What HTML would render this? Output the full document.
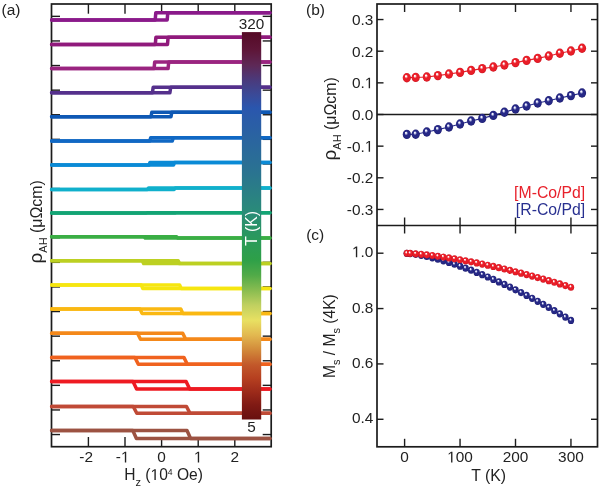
<!DOCTYPE html>
<html><head><meta charset="utf-8"><style>
html,body{margin:0;padding:0;background:#fff;}
body{width:600px;height:488px;overflow:hidden;position:relative;}
svg{position:absolute;left:0;top:0;will-change:transform;}
svg text{font-family:"Liberation Sans", sans-serif;}
</style></head><body>
<svg width="600" height="488" viewBox="0 0 600 488">
<defs>
<linearGradient id="cb" x1="0" y1="0" x2="0" y2="1">
<stop offset="0" stop-color="#560a26"/>
<stop offset="0.046" stop-color="#5e1638"/>
<stop offset="0.085" stop-color="#5e2856"/>
<stop offset="0.124" stop-color="#4a3a7c"/>
<stop offset="0.162" stop-color="#3a4a98"/>
<stop offset="0.196" stop-color="#2a56ae"/>
<stop offset="0.227" stop-color="#2a5ca8"/>
<stop offset="0.356" stop-color="#2a7292"/>
<stop offset="0.459" stop-color="#2a8a7a"/>
<stop offset="0.537" stop-color="#2a9a5a"/>
<stop offset="0.588" stop-color="#2ea048"/>
<stop offset="0.627" stop-color="#50aa48"/>
<stop offset="0.666" stop-color="#88bc50"/>
<stop offset="0.705" stop-color="#c0d060"/>
<stop offset="0.744" stop-color="#e8e062"/>
<stop offset="0.782" stop-color="#e2b850"/>
<stop offset="0.82" stop-color="#d28a3a"/>
<stop offset="0.859" stop-color="#c2582a"/>
<stop offset="0.893" stop-color="#b64020"/>
<stop offset="0.929" stop-color="#9c2a1a"/>
<stop offset="0.962" stop-color="#801a14"/>
<stop offset="1" stop-color="#681010"/>
</linearGradient>
<radialGradient id="rs" cx="0.5" cy="0.5" r="0.5" fx="0.38" fy="0.31">
<stop offset="0" stop-color="#ffffff"/><stop offset="0.13" stop-color="#ffffff"/><stop offset="0.28" stop-color="#f48088"/><stop offset="0.44" stop-color="#ea1e28"/><stop offset="0.8" stop-color="#ea1e28"/><stop offset="1" stop-color="#cc1420"/>
</radialGradient>
<radialGradient id="bs" cx="0.5" cy="0.5" r="0.5" fx="0.38" fy="0.31">
<stop offset="0" stop-color="#f4f4ff"/><stop offset="0.13" stop-color="#f4f4ff"/><stop offset="0.28" stop-color="#8a8ec8"/><stop offset="0.44" stop-color="#262886"/><stop offset="0.8" stop-color="#262886"/><stop offset="1" stop-color="#1c1c70"/>
</radialGradient>
</defs>
<rect x="51.5" y="4.0" width="219.7" height="442.7" fill="none" stroke="#1c1c1c" stroke-width="1.7"/>
<line x1="88.39999999999999" y1="4.0" x2="88.39999999999999" y2="13.7" stroke="#1c1c1c" stroke-width="1.4"/>
<line x1="88.39999999999999" y1="446.7" x2="88.39999999999999" y2="437.0" stroke="#1c1c1c" stroke-width="1.4"/>
<text x="86.1" y="462.4" font-size="15.4" text-anchor="middle" fill="#222">-2</text>
<line x1="125.0" y1="4.0" x2="125.0" y2="13.7" stroke="#1c1c1c" stroke-width="1.4"/>
<line x1="125.0" y1="446.7" x2="125.0" y2="437.0" stroke="#1c1c1c" stroke-width="1.4"/>
<text id="o38" x="122.7" y="462.4" font-size="15.4" text-anchor="middle" fill="#222">- </text>
<line x1="161.6" y1="4.0" x2="161.6" y2="13.7" stroke="#1c1c1c" stroke-width="1.4"/>
<line x1="161.6" y1="446.7" x2="161.6" y2="437.0" stroke="#1c1c1c" stroke-width="1.4"/>
<text x="161.6" y="462.4" font-size="15.4" text-anchor="middle" fill="#222">0</text>
<line x1="198.2" y1="4.0" x2="198.2" y2="13.7" stroke="#1c1c1c" stroke-width="1.4"/>
<line x1="198.2" y1="446.7" x2="198.2" y2="437.0" stroke="#1c1c1c" stroke-width="1.4"/>
<text id="o44" x="198.2" y="462.4" font-size="15.4" text-anchor="middle" fill="#222"> </text>
<line x1="234.8" y1="4.0" x2="234.8" y2="13.7" stroke="#1c1c1c" stroke-width="1.4"/>
<line x1="234.8" y1="446.7" x2="234.8" y2="437.0" stroke="#1c1c1c" stroke-width="1.4"/>
<text x="234.8" y="462.4" font-size="15.4" text-anchor="middle" fill="#222">2</text>
<line x1="51.5" y1="16.35" x2="60.0" y2="16.35" stroke="#1c1c1c" stroke-width="1.4"/>
<line x1="271.2" y1="16.35" x2="262.7" y2="16.35" stroke="#1c1c1c" stroke-width="1.4"/>
<line x1="51.5" y1="40.95" x2="60.0" y2="40.95" stroke="#1c1c1c" stroke-width="1.4"/>
<line x1="271.2" y1="40.95" x2="262.7" y2="40.95" stroke="#1c1c1c" stroke-width="1.4"/>
<line x1="51.5" y1="65.55" x2="60.0" y2="65.55" stroke="#1c1c1c" stroke-width="1.4"/>
<line x1="271.2" y1="65.55" x2="262.7" y2="65.55" stroke="#1c1c1c" stroke-width="1.4"/>
<line x1="51.5" y1="90.15" x2="60.0" y2="90.15" stroke="#1c1c1c" stroke-width="1.4"/>
<line x1="271.2" y1="90.15" x2="262.7" y2="90.15" stroke="#1c1c1c" stroke-width="1.4"/>
<line x1="51.5" y1="114.75" x2="60.0" y2="114.75" stroke="#1c1c1c" stroke-width="1.4"/>
<line x1="271.2" y1="114.75" x2="262.7" y2="114.75" stroke="#1c1c1c" stroke-width="1.4"/>
<line x1="51.5" y1="139.35" x2="60.0" y2="139.35" stroke="#1c1c1c" stroke-width="1.4"/>
<line x1="271.2" y1="139.35" x2="262.7" y2="139.35" stroke="#1c1c1c" stroke-width="1.4"/>
<line x1="51.5" y1="163.95" x2="60.0" y2="163.95" stroke="#1c1c1c" stroke-width="1.4"/>
<line x1="271.2" y1="163.95" x2="262.7" y2="163.95" stroke="#1c1c1c" stroke-width="1.4"/>
<line x1="51.5" y1="188.55" x2="60.0" y2="188.55" stroke="#1c1c1c" stroke-width="1.4"/>
<line x1="271.2" y1="188.55" x2="262.7" y2="188.55" stroke="#1c1c1c" stroke-width="1.4"/>
<line x1="51.5" y1="213.15" x2="60.0" y2="213.15" stroke="#1c1c1c" stroke-width="1.4"/>
<line x1="271.2" y1="213.15" x2="262.7" y2="213.15" stroke="#1c1c1c" stroke-width="1.4"/>
<line x1="51.5" y1="237.75" x2="60.0" y2="237.75" stroke="#1c1c1c" stroke-width="1.4"/>
<line x1="271.2" y1="237.75" x2="262.7" y2="237.75" stroke="#1c1c1c" stroke-width="1.4"/>
<line x1="51.5" y1="262.35" x2="60.0" y2="262.35" stroke="#1c1c1c" stroke-width="1.4"/>
<line x1="271.2" y1="262.35" x2="262.7" y2="262.35" stroke="#1c1c1c" stroke-width="1.4"/>
<line x1="51.5" y1="286.95" x2="60.0" y2="286.95" stroke="#1c1c1c" stroke-width="1.4"/>
<line x1="271.2" y1="286.95" x2="262.7" y2="286.95" stroke="#1c1c1c" stroke-width="1.4"/>
<line x1="51.5" y1="311.55" x2="60.0" y2="311.55" stroke="#1c1c1c" stroke-width="1.4"/>
<line x1="271.2" y1="311.55" x2="262.7" y2="311.55" stroke="#1c1c1c" stroke-width="1.4"/>
<line x1="51.5" y1="336.15" x2="60.0" y2="336.15" stroke="#1c1c1c" stroke-width="1.4"/>
<line x1="271.2" y1="336.15" x2="262.7" y2="336.15" stroke="#1c1c1c" stroke-width="1.4"/>
<line x1="51.5" y1="360.75" x2="60.0" y2="360.75" stroke="#1c1c1c" stroke-width="1.4"/>
<line x1="271.2" y1="360.75" x2="262.7" y2="360.75" stroke="#1c1c1c" stroke-width="1.4"/>
<line x1="51.5" y1="385.35" x2="60.0" y2="385.35" stroke="#1c1c1c" stroke-width="1.4"/>
<line x1="271.2" y1="385.35" x2="262.7" y2="385.35" stroke="#1c1c1c" stroke-width="1.4"/>
<line x1="51.5" y1="409.95" x2="60.0" y2="409.95" stroke="#1c1c1c" stroke-width="1.4"/>
<line x1="271.2" y1="409.95" x2="262.7" y2="409.95" stroke="#1c1c1c" stroke-width="1.4"/>
<line x1="51.5" y1="434.55" x2="60.0" y2="434.55" stroke="#1c1c1c" stroke-width="1.4"/>
<line x1="271.2" y1="434.55" x2="262.7" y2="434.55" stroke="#1c1c1c" stroke-width="1.4"/>
<path d="M51.6,19.9 H167.2 L167.8,12.7 H269.9" fill="none" stroke="#8a1a8a" stroke-width="3.5" stroke-linejoin="round" stroke-linecap="round"/>
<path d="M269.9,12.7 H155.8 L155.2,19.9 H51.6" fill="none" stroke="#8a1a8a" stroke-width="3.5" stroke-linejoin="round" stroke-linecap="round"/>
<path d="M51.6,44.4 H167.5 L168.10000000000002,37.3 H269.9" fill="none" stroke="#901a7c" stroke-width="3.5" stroke-linejoin="round" stroke-linecap="round"/>
<path d="M269.9,37.3 H155.9 L155.29999999999998,44.4 H51.6" fill="none" stroke="#901a7c" stroke-width="3.5" stroke-linejoin="round" stroke-linecap="round"/>
<path d="M51.6,68.6 H168.1 L168.70000000000002,61.9 H269.9" fill="none" stroke="#9a2480" stroke-width="3.5" stroke-linejoin="round" stroke-linecap="round"/>
<path d="M269.9,61.9 H154.70000000000002 L154.1,68.6 H51.6" fill="none" stroke="#9a2480" stroke-width="3.5" stroke-linejoin="round" stroke-linecap="round"/>
<path d="M51.6,92.8 H169.9 L170.70000000000002,87.2 H269.9" fill="none" stroke="#55308c" stroke-width="3.5" stroke-linejoin="round" stroke-linecap="round"/>
<path d="M269.9,87.2 H153.20000000000002 L152.4,92.8 H51.6" fill="none" stroke="#55308c" stroke-width="3.5" stroke-linejoin="round" stroke-linecap="round"/>
<path d="M51.6,116.7 H171.0 L171.8,112.3 H269.9" fill="none" stroke="#0e58b4" stroke-width="3.5" stroke-linejoin="round" stroke-linecap="round"/>
<path d="M269.9,112.3 H151.8 L151.0,116.7 H51.6" fill="none" stroke="#0e58b4" stroke-width="3.5" stroke-linejoin="round" stroke-linecap="round"/>
<path d="M51.6,140.9 H172.3 L173.3,137.7 H269.9" fill="none" stroke="#1068c4" stroke-width="3.5" stroke-linejoin="round" stroke-linecap="round"/>
<path d="M269.9,137.7 H150.7 L149.7,140.9 H51.6" fill="none" stroke="#1068c4" stroke-width="3.5" stroke-linejoin="round" stroke-linecap="round"/>
<path d="M51.6,165.0 H173.5 L174.5,162.5 H269.9" fill="none" stroke="#0a8ad6" stroke-width="3.5" stroke-linejoin="round" stroke-linecap="round"/>
<path d="M269.9,162.5 H150.0 L149.0,165.0 H51.6" fill="none" stroke="#0a8ad6" stroke-width="3.5" stroke-linejoin="round" stroke-linecap="round"/>
<path d="M51.6,189.4 H174.20000000000002 L175.4,188.0 H269.9" fill="none" stroke="#10b0cc" stroke-width="3.5" stroke-linejoin="round" stroke-linecap="round"/>
<path d="M269.9,188.0 H148.6 L147.4,189.4 H51.6" fill="none" stroke="#10b0cc" stroke-width="3.5" stroke-linejoin="round" stroke-linecap="round"/>
<path d="M51.6,212.95 H175.20000000000002 L176.4,212.75 H269.9" fill="none" stroke="#12a474" stroke-width="3.5" stroke-linejoin="round" stroke-linecap="round"/>
<path d="M269.9,212.75 H147.4 L146.20000000000002,212.95 H51.6" fill="none" stroke="#12a474" stroke-width="3.5" stroke-linejoin="round" stroke-linecap="round"/>
<path d="M51.6,236.8 H176.6 L177.79999999999998,238.1 H269.9" fill="none" stroke="#3aae44" stroke-width="3.5" stroke-linejoin="round" stroke-linecap="round"/>
<path d="M269.9,238.1 H145.2 L144.0,236.8 H51.6" fill="none" stroke="#3aae44" stroke-width="3.5" stroke-linejoin="round" stroke-linecap="round"/>
<path d="M51.6,260.8 H178.20000000000002 L179.6,263.6 H269.9" fill="none" stroke="#bcd022" stroke-width="3.5" stroke-linejoin="round" stroke-linecap="round"/>
<path d="M269.9,263.6 H143.7 L142.3,260.8 H51.6" fill="none" stroke="#bcd022" stroke-width="3.5" stroke-linejoin="round" stroke-linecap="round"/>
<path d="M51.6,284.9 H179.6 L181.20000000000002,288.5 H269.9" fill="none" stroke="#f6e610" stroke-width="3.5" stroke-linejoin="round" stroke-linecap="round"/>
<path d="M269.9,288.5 H142.8 L141.2,284.9 H51.6" fill="none" stroke="#f6e610" stroke-width="3.5" stroke-linejoin="round" stroke-linecap="round"/>
<path d="M51.6,309.0 H180.8 L182.8,313.4 H269.9" fill="none" stroke="#fab812" stroke-width="3.5" stroke-linejoin="round" stroke-linecap="round"/>
<path d="M269.9,313.4 H142.0 L140.0,309.0 H51.6" fill="none" stroke="#fab812" stroke-width="3.5" stroke-linejoin="round" stroke-linecap="round"/>
<path d="M51.6,333.2 H182.7 L185.7,339.2 H269.9" fill="none" stroke="#f4881a" stroke-width="3.5" stroke-linejoin="round" stroke-linecap="round"/>
<path d="M269.9,339.2 H140.5 L137.5,333.2 H51.6" fill="none" stroke="#f4881a" stroke-width="3.5" stroke-linejoin="round" stroke-linecap="round"/>
<path d="M51.6,357.4 H183.9 L187.29999999999998,364.2 H269.9" fill="none" stroke="#f0621e" stroke-width="3.5" stroke-linejoin="round" stroke-linecap="round"/>
<path d="M269.9,364.2 H138.29999999999998 L134.9,357.4 H51.6" fill="none" stroke="#f0621e" stroke-width="3.5" stroke-linejoin="round" stroke-linecap="round"/>
<path d="M51.6,381.5 H186.1 L189.70000000000002,389.0 H269.9" fill="none" stroke="#ee1a22" stroke-width="3.5" stroke-linejoin="round" stroke-linecap="round"/>
<path d="M269.9,389.0 H136.60000000000002 L133.0,381.5 H51.6" fill="none" stroke="#ee1a22" stroke-width="3.5" stroke-linejoin="round" stroke-linecap="round"/>
<path d="M51.6,406.4 H186.39999999999998 L190.0,413.2 H269.9" fill="none" stroke="#c04a36" stroke-width="3.5" stroke-linejoin="round" stroke-linecap="round"/>
<path d="M269.9,413.2 H136.8 L133.2,406.4 H51.6" fill="none" stroke="#c04a36" stroke-width="3.5" stroke-linejoin="round" stroke-linecap="round"/>
<path d="M51.6,430.6 H187.0 L190.60000000000002,438.4 H269.9" fill="none" stroke="#9c5242" stroke-width="3.5" stroke-linejoin="round" stroke-linecap="round"/>
<path d="M269.9,438.4 H136.4 L132.79999999999998,430.6 H51.6" fill="none" stroke="#9c5242" stroke-width="3.5" stroke-linejoin="round" stroke-linecap="round"/>
<rect x="241.9" y="32.1" width="19.3" height="387.4" fill="url(#cb)"/>
<text x="251.6" y="28.8" font-size="15.3" text-anchor="middle" fill="#222">320</text>
<text x="251.4" y="432.3" font-size="15.3" text-anchor="middle" fill="#222">5</text>
<text transform="translate(256.5,228.4) rotate(-90)" font-size="15.8" text-anchor="middle" fill="#fff">T (K)</text>
<text x="1.5" y="14.8" font-size="15.5" fill="#222">(a)</text>
<text id="o125" x="124.2" y="479.9" font-size="15.6" fill="#222">H<tspan font-size="11" dy="6">z</tspan><tspan dy="-6"> ( 0</tspan><tspan font-size="8.6" dy="-5.2">4</tspan><tspan dy="5.2"> Oe)</tspan></text>
<text transform="translate(41.6,263.5) rotate(-90)" font-size="15.9" fill="#222"><tspan font-size="19">ρ</tspan><tspan font-size="11" dy="5">AH</tspan><tspan dy="-5"> (μΩcm)</tspan></text>
<rect x="377.0" y="4.0" width="220.5" height="442.8" fill="none" stroke="#1c1c1c" stroke-width="1.7"/>
<line x1="377.0" y1="225.5" x2="597.5" y2="225.5" stroke="#1c1c1c" stroke-width="1.7"/>
<line x1="377.0" y1="114.5" x2="597.5" y2="114.5" stroke="#1c1c1c" stroke-width="1.7"/>
<line x1="404.6" y1="4.0" x2="404.6" y2="12.0" stroke="#1c1c1c" stroke-width="1.4"/>
<line x1="404.6" y1="217.5" x2="404.6" y2="233.5" stroke="#1c1c1c" stroke-width="1.4"/>
<line x1="404.6" y1="446.8" x2="404.6" y2="438.8" stroke="#1c1c1c" stroke-width="1.4"/>
<text x="404.6" y="462.4" font-size="15.4" text-anchor="middle" fill="#222">0</text>
<line x1="460.05" y1="4.0" x2="460.05" y2="12.0" stroke="#1c1c1c" stroke-width="1.4"/>
<line x1="460.05" y1="217.5" x2="460.05" y2="233.5" stroke="#1c1c1c" stroke-width="1.4"/>
<line x1="460.05" y1="446.8" x2="460.05" y2="438.8" stroke="#1c1c1c" stroke-width="1.4"/>
<text id="o137" x="460.05" y="462.4" font-size="15.4" text-anchor="middle" fill="#222"> 00</text>
<line x1="515.5" y1="4.0" x2="515.5" y2="12.0" stroke="#1c1c1c" stroke-width="1.4"/>
<line x1="515.5" y1="217.5" x2="515.5" y2="233.5" stroke="#1c1c1c" stroke-width="1.4"/>
<line x1="515.5" y1="446.8" x2="515.5" y2="438.8" stroke="#1c1c1c" stroke-width="1.4"/>
<text x="515.5" y="462.4" font-size="15.4" text-anchor="middle" fill="#222">200</text>
<line x1="570.95" y1="4.0" x2="570.95" y2="12.0" stroke="#1c1c1c" stroke-width="1.4"/>
<line x1="570.95" y1="217.5" x2="570.95" y2="233.5" stroke="#1c1c1c" stroke-width="1.4"/>
<line x1="570.95" y1="446.8" x2="570.95" y2="438.8" stroke="#1c1c1c" stroke-width="1.4"/>
<text x="570.95" y="462.4" font-size="15.4" text-anchor="middle" fill="#222">300</text>
<line x1="377.0" y1="19.549999999999997" x2="383.5" y2="19.549999999999997" stroke="#1c1c1c" stroke-width="1.4"/>
<line x1="597.5" y1="19.549999999999997" x2="591.0" y2="19.549999999999997" stroke="#1c1c1c" stroke-width="1.4"/>
<text x="373.4" y="25.049999999999997" font-size="15.4" text-anchor="end" fill="#222">0.3</text>
<line x1="377.0" y1="51.199999999999996" x2="383.5" y2="51.199999999999996" stroke="#1c1c1c" stroke-width="1.4"/>
<line x1="597.5" y1="51.199999999999996" x2="591.0" y2="51.199999999999996" stroke="#1c1c1c" stroke-width="1.4"/>
<text x="373.4" y="56.699999999999996" font-size="15.4" text-anchor="end" fill="#222">0.2</text>
<line x1="377.0" y1="82.85" x2="383.5" y2="82.85" stroke="#1c1c1c" stroke-width="1.4"/>
<line x1="597.5" y1="82.85" x2="591.0" y2="82.85" stroke="#1c1c1c" stroke-width="1.4"/>
<text id="o154" x="373.4" y="88.35" font-size="15.4" text-anchor="end" fill="#222">0. </text>
<line x1="377.0" y1="114.5" x2="383.5" y2="114.5" stroke="#1c1c1c" stroke-width="1.4"/>
<line x1="597.5" y1="114.5" x2="591.0" y2="114.5" stroke="#1c1c1c" stroke-width="1.4"/>
<text x="373.4" y="120.0" font-size="15.4" text-anchor="end" fill="#222">0.0</text>
<line x1="377.0" y1="146.15" x2="383.5" y2="146.15" stroke="#1c1c1c" stroke-width="1.4"/>
<line x1="597.5" y1="146.15" x2="591.0" y2="146.15" stroke="#1c1c1c" stroke-width="1.4"/>
<text id="o160" x="373.4" y="151.65" font-size="15.4" text-anchor="end" fill="#222">-0. </text>
<line x1="377.0" y1="177.8" x2="383.5" y2="177.8" stroke="#1c1c1c" stroke-width="1.4"/>
<line x1="597.5" y1="177.8" x2="591.0" y2="177.8" stroke="#1c1c1c" stroke-width="1.4"/>
<text x="373.4" y="183.3" font-size="15.4" text-anchor="end" fill="#222">-0.2</text>
<line x1="377.0" y1="209.45" x2="383.5" y2="209.45" stroke="#1c1c1c" stroke-width="1.4"/>
<line x1="597.5" y1="209.45" x2="591.0" y2="209.45" stroke="#1c1c1c" stroke-width="1.4"/>
<text x="373.4" y="214.95" font-size="15.4" text-anchor="end" fill="#222">-0.3</text>
<line x1="377.0" y1="253.2" x2="383.5" y2="253.2" stroke="#1c1c1c" stroke-width="1.4"/>
<line x1="597.5" y1="253.2" x2="591.0" y2="253.2" stroke="#1c1c1c" stroke-width="1.4"/>
<text id="o169" x="373.4" y="257.2" font-size="15.4" text-anchor="end" fill="#222"> .0</text>
<line x1="377.0" y1="308.56" x2="383.5" y2="308.56" stroke="#1c1c1c" stroke-width="1.4"/>
<line x1="597.5" y1="308.56" x2="591.0" y2="308.56" stroke="#1c1c1c" stroke-width="1.4"/>
<text x="373.4" y="312.56" font-size="15.4" text-anchor="end" fill="#222">0.8</text>
<line x1="377.0" y1="363.92" x2="383.5" y2="363.92" stroke="#1c1c1c" stroke-width="1.4"/>
<line x1="597.5" y1="363.92" x2="591.0" y2="363.92" stroke="#1c1c1c" stroke-width="1.4"/>
<text x="373.4" y="367.92" font-size="15.4" text-anchor="end" fill="#222">0.6</text>
<line x1="377.0" y1="419.28" x2="383.5" y2="419.28" stroke="#1c1c1c" stroke-width="1.4"/>
<line x1="597.5" y1="419.28" x2="591.0" y2="419.28" stroke="#1c1c1c" stroke-width="1.4"/>
<text x="373.4" y="423.28" font-size="15.4" text-anchor="end" fill="#222">0.4</text>
<text x="306" y="14.5" font-size="15.5" fill="#222">(b)</text>
<text x="306.2" y="240.0" font-size="15.5" fill="#222">(c)</text>
<text x="471.3" y="480.6" font-size="15.8" fill="#222">T (K)</text>
<text transform="translate(335.6,160.5) rotate(-90)" font-size="15.9" fill="#222"><tspan font-size="19">ρ</tspan><tspan font-size="11" dy="5">AH</tspan><tspan dy="-5"> (μΩcm)</tspan></text>
<text transform="translate(334.8,378.0) rotate(-90)" font-size="15.6" fill="#222">M<tspan font-size="11" dy="5.5">s</tspan><tspan dy="-5.5"> / M</tspan><tspan font-size="11" dy="5.5">s</tspan><tspan dy="-5.5"> (4K)</tspan></text>
<text x="585.2" y="197.6" font-size="15.8" text-anchor="end" fill="#e8202a">[M-Co/Pd]</text>
<text x="585.2" y="214.7" font-size="15.8" text-anchor="end" fill="#283090">[R-Co/Pd]</text>
<polyline points="406.82,77.70 415.69,77.40 426.78,77.00 437.87,75.60 448.96,74.00 460.05,72.40 471.14,70.40 482.23,68.60 493.32,67.00 504.41,65.00 515.50,62.60 526.59,60.40 537.68,58.40 548.77,56.00 559.86,53.20 570.95,51.00 582.04,48.20" fill="none" stroke="#e8202a" stroke-width="1.1"/>
<ellipse cx="406.82" cy="77.70" rx="4.1" ry="4.7" fill="url(#rs)"/>
<ellipse cx="415.69" cy="77.40" rx="4.1" ry="4.7" fill="url(#rs)"/>
<ellipse cx="426.78" cy="77.00" rx="4.1" ry="4.7" fill="url(#rs)"/>
<ellipse cx="437.87" cy="75.60" rx="4.1" ry="4.7" fill="url(#rs)"/>
<ellipse cx="448.96" cy="74.00" rx="4.1" ry="4.7" fill="url(#rs)"/>
<ellipse cx="460.05" cy="72.40" rx="4.1" ry="4.7" fill="url(#rs)"/>
<ellipse cx="471.14" cy="70.40" rx="4.1" ry="4.7" fill="url(#rs)"/>
<ellipse cx="482.23" cy="68.60" rx="4.1" ry="4.7" fill="url(#rs)"/>
<ellipse cx="493.32" cy="67.00" rx="4.1" ry="4.7" fill="url(#rs)"/>
<ellipse cx="504.41" cy="65.00" rx="4.1" ry="4.7" fill="url(#rs)"/>
<ellipse cx="515.50" cy="62.60" rx="4.1" ry="4.7" fill="url(#rs)"/>
<ellipse cx="526.59" cy="60.40" rx="4.1" ry="4.7" fill="url(#rs)"/>
<ellipse cx="537.68" cy="58.40" rx="4.1" ry="4.7" fill="url(#rs)"/>
<ellipse cx="548.77" cy="56.00" rx="4.1" ry="4.7" fill="url(#rs)"/>
<ellipse cx="559.86" cy="53.20" rx="4.1" ry="4.7" fill="url(#rs)"/>
<ellipse cx="570.95" cy="51.00" rx="4.1" ry="4.7" fill="url(#rs)"/>
<ellipse cx="582.04" cy="48.20" rx="4.1" ry="4.7" fill="url(#rs)"/>
<polyline points="406.82,134.40 415.69,134.20 426.78,132.00 437.87,129.60 448.96,127.00 460.05,124.00 471.14,121.00 482.23,118.40 493.32,115.40 504.41,112.20 515.50,109.00 526.59,106.00 537.68,103.00 548.77,100.80 559.86,98.00 570.95,95.60 582.04,93.00" fill="none" stroke="#262a8a" stroke-width="1.1"/>
<ellipse cx="406.82" cy="134.40" rx="4.1" ry="4.7" fill="url(#bs)"/>
<ellipse cx="415.69" cy="134.20" rx="4.1" ry="4.7" fill="url(#bs)"/>
<ellipse cx="426.78" cy="132.00" rx="4.1" ry="4.7" fill="url(#bs)"/>
<ellipse cx="437.87" cy="129.60" rx="4.1" ry="4.7" fill="url(#bs)"/>
<ellipse cx="448.96" cy="127.00" rx="4.1" ry="4.7" fill="url(#bs)"/>
<ellipse cx="460.05" cy="124.00" rx="4.1" ry="4.7" fill="url(#bs)"/>
<ellipse cx="471.14" cy="121.00" rx="4.1" ry="4.7" fill="url(#bs)"/>
<ellipse cx="482.23" cy="118.40" rx="4.1" ry="4.7" fill="url(#bs)"/>
<ellipse cx="493.32" cy="115.40" rx="4.1" ry="4.7" fill="url(#bs)"/>
<ellipse cx="504.41" cy="112.20" rx="4.1" ry="4.7" fill="url(#bs)"/>
<ellipse cx="515.50" cy="109.00" rx="4.1" ry="4.7" fill="url(#bs)"/>
<ellipse cx="526.59" cy="106.00" rx="4.1" ry="4.7" fill="url(#bs)"/>
<ellipse cx="537.68" cy="103.00" rx="4.1" ry="4.7" fill="url(#bs)"/>
<ellipse cx="548.77" cy="100.80" rx="4.1" ry="4.7" fill="url(#bs)"/>
<ellipse cx="559.86" cy="98.00" rx="4.1" ry="4.7" fill="url(#bs)"/>
<ellipse cx="570.95" cy="95.60" rx="4.1" ry="4.7" fill="url(#bs)"/>
<ellipse cx="582.04" cy="93.00" rx="4.1" ry="4.7" fill="url(#bs)"/>
<polyline points="406.82,253.30 410.15,253.61 415.69,254.36 421.24,255.33 426.78,256.47 432.33,257.78 437.87,259.22 443.42,260.78 448.96,262.46 454.50,264.25 460.05,266.14 465.60,268.13 471.14,270.22 476.69,272.39 482.23,274.64 487.78,276.98 493.32,279.40 498.87,281.89 504.41,284.46 509.96,287.10 515.50,289.81 521.05,292.59 526.59,295.44 532.13,298.35 537.68,301.33 543.23,304.37 548.77,307.47 554.32,310.63 559.86,313.85 565.40,317.13 570.95,320.46" fill="none" stroke="#262a8a" stroke-width="1.1"/>
<ellipse cx="406.82" cy="253.30" rx="3.2" ry="3.6" fill="url(#bs)"/>
<ellipse cx="410.15" cy="253.61" rx="3.2" ry="3.6" fill="url(#bs)"/>
<ellipse cx="415.69" cy="254.36" rx="3.2" ry="3.6" fill="url(#bs)"/>
<ellipse cx="421.24" cy="255.33" rx="3.2" ry="3.6" fill="url(#bs)"/>
<ellipse cx="426.78" cy="256.47" rx="3.2" ry="3.6" fill="url(#bs)"/>
<ellipse cx="432.33" cy="257.78" rx="3.2" ry="3.6" fill="url(#bs)"/>
<ellipse cx="437.87" cy="259.22" rx="3.2" ry="3.6" fill="url(#bs)"/>
<ellipse cx="443.42" cy="260.78" rx="3.2" ry="3.6" fill="url(#bs)"/>
<ellipse cx="448.96" cy="262.46" rx="3.2" ry="3.6" fill="url(#bs)"/>
<ellipse cx="454.50" cy="264.25" rx="3.2" ry="3.6" fill="url(#bs)"/>
<ellipse cx="460.05" cy="266.14" rx="3.2" ry="3.6" fill="url(#bs)"/>
<ellipse cx="465.60" cy="268.13" rx="3.2" ry="3.6" fill="url(#bs)"/>
<ellipse cx="471.14" cy="270.22" rx="3.2" ry="3.6" fill="url(#bs)"/>
<ellipse cx="476.69" cy="272.39" rx="3.2" ry="3.6" fill="url(#bs)"/>
<ellipse cx="482.23" cy="274.64" rx="3.2" ry="3.6" fill="url(#bs)"/>
<ellipse cx="487.78" cy="276.98" rx="3.2" ry="3.6" fill="url(#bs)"/>
<ellipse cx="493.32" cy="279.40" rx="3.2" ry="3.6" fill="url(#bs)"/>
<ellipse cx="498.87" cy="281.89" rx="3.2" ry="3.6" fill="url(#bs)"/>
<ellipse cx="504.41" cy="284.46" rx="3.2" ry="3.6" fill="url(#bs)"/>
<ellipse cx="509.96" cy="287.10" rx="3.2" ry="3.6" fill="url(#bs)"/>
<ellipse cx="515.50" cy="289.81" rx="3.2" ry="3.6" fill="url(#bs)"/>
<ellipse cx="521.05" cy="292.59" rx="3.2" ry="3.6" fill="url(#bs)"/>
<ellipse cx="526.59" cy="295.44" rx="3.2" ry="3.6" fill="url(#bs)"/>
<ellipse cx="532.13" cy="298.35" rx="3.2" ry="3.6" fill="url(#bs)"/>
<ellipse cx="537.68" cy="301.33" rx="3.2" ry="3.6" fill="url(#bs)"/>
<ellipse cx="543.23" cy="304.37" rx="3.2" ry="3.6" fill="url(#bs)"/>
<ellipse cx="548.77" cy="307.47" rx="3.2" ry="3.6" fill="url(#bs)"/>
<ellipse cx="554.32" cy="310.63" rx="3.2" ry="3.6" fill="url(#bs)"/>
<ellipse cx="559.86" cy="313.85" rx="3.2" ry="3.6" fill="url(#bs)"/>
<ellipse cx="565.40" cy="317.13" rx="3.2" ry="3.6" fill="url(#bs)"/>
<ellipse cx="570.95" cy="320.46" rx="3.2" ry="3.6" fill="url(#bs)"/>
<polyline points="406.82,253.25 410.15,253.41 415.69,253.79 421.24,254.28 426.78,254.86 432.33,255.52 437.87,256.25 443.42,257.04 448.96,257.89 454.50,258.79 460.05,259.75 465.60,260.76 471.14,261.81 476.69,262.91 482.23,264.05 487.78,265.24 493.32,266.46 498.87,267.72 504.41,269.02 509.96,270.36 515.50,271.73 521.05,273.14 526.59,274.58 532.13,276.05 537.68,277.56 543.23,279.10 548.77,280.67 554.32,282.27 559.86,283.90 565.40,285.56 570.95,287.25" fill="none" stroke="#e8202a" stroke-width="1.1"/>
<ellipse cx="406.82" cy="253.25" rx="3.2" ry="3.6" fill="url(#rs)"/>
<ellipse cx="410.15" cy="253.41" rx="3.2" ry="3.6" fill="url(#rs)"/>
<ellipse cx="415.69" cy="253.79" rx="3.2" ry="3.6" fill="url(#rs)"/>
<ellipse cx="421.24" cy="254.28" rx="3.2" ry="3.6" fill="url(#rs)"/>
<ellipse cx="426.78" cy="254.86" rx="3.2" ry="3.6" fill="url(#rs)"/>
<ellipse cx="432.33" cy="255.52" rx="3.2" ry="3.6" fill="url(#rs)"/>
<ellipse cx="437.87" cy="256.25" rx="3.2" ry="3.6" fill="url(#rs)"/>
<ellipse cx="443.42" cy="257.04" rx="3.2" ry="3.6" fill="url(#rs)"/>
<ellipse cx="448.96" cy="257.89" rx="3.2" ry="3.6" fill="url(#rs)"/>
<ellipse cx="454.50" cy="258.79" rx="3.2" ry="3.6" fill="url(#rs)"/>
<ellipse cx="460.05" cy="259.75" rx="3.2" ry="3.6" fill="url(#rs)"/>
<ellipse cx="465.60" cy="260.76" rx="3.2" ry="3.6" fill="url(#rs)"/>
<ellipse cx="471.14" cy="261.81" rx="3.2" ry="3.6" fill="url(#rs)"/>
<ellipse cx="476.69" cy="262.91" rx="3.2" ry="3.6" fill="url(#rs)"/>
<ellipse cx="482.23" cy="264.05" rx="3.2" ry="3.6" fill="url(#rs)"/>
<ellipse cx="487.78" cy="265.24" rx="3.2" ry="3.6" fill="url(#rs)"/>
<ellipse cx="493.32" cy="266.46" rx="3.2" ry="3.6" fill="url(#rs)"/>
<ellipse cx="498.87" cy="267.72" rx="3.2" ry="3.6" fill="url(#rs)"/>
<ellipse cx="504.41" cy="269.02" rx="3.2" ry="3.6" fill="url(#rs)"/>
<ellipse cx="509.96" cy="270.36" rx="3.2" ry="3.6" fill="url(#rs)"/>
<ellipse cx="515.50" cy="271.73" rx="3.2" ry="3.6" fill="url(#rs)"/>
<ellipse cx="521.05" cy="273.14" rx="3.2" ry="3.6" fill="url(#rs)"/>
<ellipse cx="526.59" cy="274.58" rx="3.2" ry="3.6" fill="url(#rs)"/>
<ellipse cx="532.13" cy="276.05" rx="3.2" ry="3.6" fill="url(#rs)"/>
<ellipse cx="537.68" cy="277.56" rx="3.2" ry="3.6" fill="url(#rs)"/>
<ellipse cx="543.23" cy="279.10" rx="3.2" ry="3.6" fill="url(#rs)"/>
<ellipse cx="548.77" cy="280.67" rx="3.2" ry="3.6" fill="url(#rs)"/>
<ellipse cx="554.32" cy="282.27" rx="3.2" ry="3.6" fill="url(#rs)"/>
<ellipse cx="559.86" cy="283.90" rx="3.2" ry="3.6" fill="url(#rs)"/>
<ellipse cx="565.40" cy="285.56" rx="3.2" ry="3.6" fill="url(#rs)"/>
<ellipse cx="570.95" cy="287.25" rx="3.2" ry="3.6" fill="url(#rs)"/>
<path d="M515 0V1237L197 1010V1180L530 1409H696V0Z" transform="translate(120.981,462.400) scale(0.007520,-0.007520)" fill="#222"/>
<path d="M515 0V1237L197 1010V1180L530 1409H696V0Z" transform="translate(193.919,462.400) scale(0.007520,-0.007520)" fill="#222"/>
<path d="M515 0V1237L197 1010V1180L530 1409H696V0Z" transform="translate(150.481,479.900) scale(0.007617,-0.007617)" fill="#222"/>
<path d="M515 0V1237L197 1010V1180L530 1409H696V0Z" transform="translate(447.206,462.400) scale(0.007520,-0.007520)" fill="#222"/>
<path d="M515 0V1237L197 1010V1180L530 1409H696V0Z" transform="translate(364.822,88.350) scale(0.007520,-0.007520)" fill="#222"/>
<path d="M515 0V1237L197 1010V1180L530 1409H696V0Z" transform="translate(364.822,151.650) scale(0.007520,-0.007520)" fill="#222"/>
<path d="M515 0V1237L197 1010V1180L530 1409H696V0Z" transform="translate(351.994,257.200) scale(0.007520,-0.007520)" fill="#222"/>
</svg>
</body></html>
